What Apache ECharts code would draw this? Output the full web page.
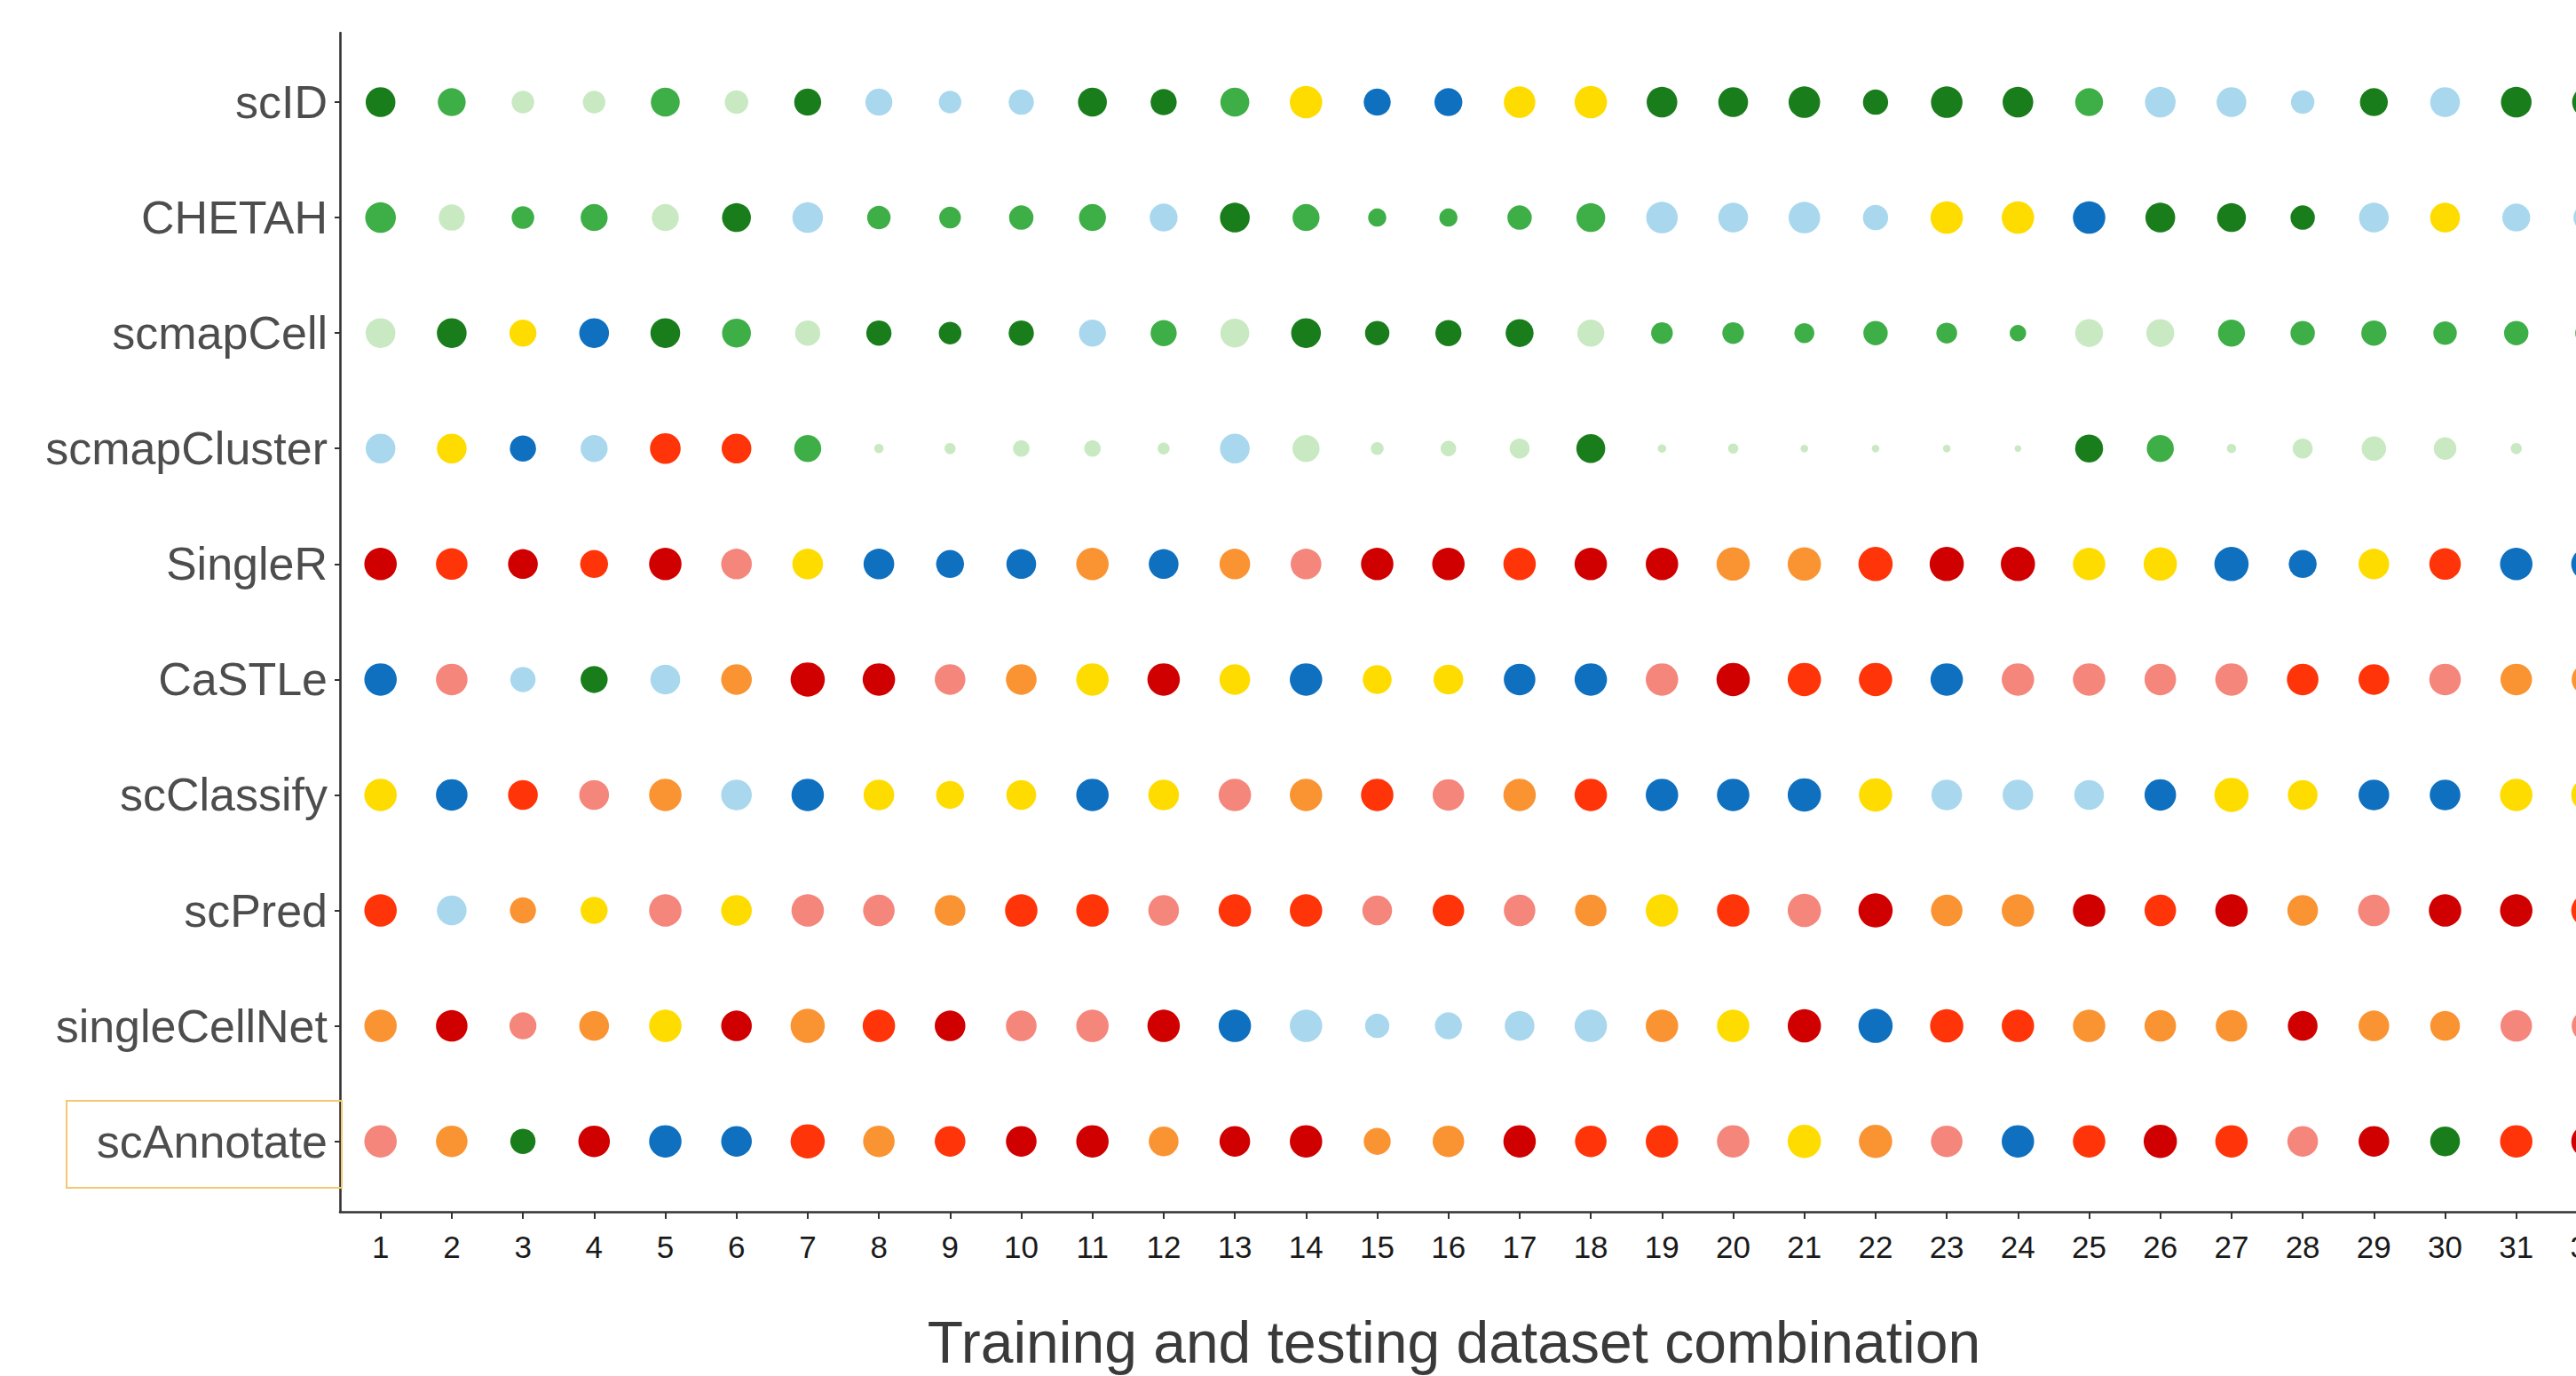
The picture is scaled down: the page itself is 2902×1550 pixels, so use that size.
<!DOCTYPE html>
<html>
<head>
<meta charset="utf-8">
<style>
html,body{margin:0;padding:0;background:#fff;overflow:hidden;}
#chart{width:2960px;height:1550px;}
</style>
<script src="https://cdn.jsdelivr.net/npm/echarts@6/dist/echarts.min.js"></script>
</head>
<body>
<div id="chart"></div>
<script>
// ---- data ----
const combos = [1,2,3,4,5,6,7,8,9,10,11,12,13,14,15,16,17,18,19,20,21,22,23,24,25,26,27,28,29,30,31,32];
const methods = ['scID','CHETAH','scmapCell','scmapCluster','SingleR','CaSTLe','scClassify','scPred','singleCellNet','scAnnotate'];
const axisTitle = 'Training and testing dataset combination';

// rank of each method (1 = best) per combination
const rankScID         = [10,9,8,8,9,8,10,7,7,7,10,10,9,5,6,6,5,5,10,10,10,10,10,10,9,7,7,7,10,7,10,10];
const rankCHETAH       = [9,8,9,9,8,10,7,9,9,9,9,7,10,9,9,9,9,9,7,7,7,7,5,5,6,10,10,10,7,5,7,7];
const rankScmapCell    = [8,10,5,6,10,9,8,10,10,10,7,9,8,10,10,10,10,8,9,9,9,9,9,9,8,8,9,9,9,9,9,9];
const rankScmapCluster = [7,5,6,7,2,2,9,8,8,8,8,8,7,8,8,8,8,10,8,8,8,8,8,8,10,9,8,8,8,8,8,8];
const rankSingleR      = [1,2,1,2,1,3,5,6,6,6,4,6,4,3,1,1,2,1,1,4,4,2,1,1,5,5,6,6,5,2,6,6];
const rankCaSTLe       = [6,3,7,10,7,4,1,1,3,4,5,1,5,6,5,5,6,6,3,1,2,2,6,3,3,3,3,2,2,3,4,4];
const rankScClassify   = [5,6,2,3,4,7,6,5,5,5,6,5,3,4,2,3,4,2,6,6,6,5,7,7,7,6,5,5,6,6,5,5];
const rankScPred       = [2,7,4,5,3,5,3,3,4,2,2,3,2,2,3,2,3,4,5,2,3,1,4,4,1,2,1,4,3,1,1,2];
const rankSingleCellNet= [4,1,3,4,5,1,4,2,1,3,3,1,6,7,7,7,7,7,4,5,1,6,2,2,4,4,4,1,4,4,3,3];
const rankScAnnotate   = [3,4,10,1,6,6,2,4,2,1,1,4,1,1,4,4,1,2,2,3,5,4,3,6,2,1,2,3,1,10,2,1];

// score encoded by dot size
const scoreScID         = [35,33,27,27,34,28,32,32,27,30,34,31,34,38,32,33,37,38,36,35,37,30,37,36,33,36,35,28,33,35,36,36];
const scoreCHETAH       = [36,31,27,32,32,34,36,28,26,29,32,33,35,32,22,22,29,34,37,35,37,30,38,38,38,35,34,29,35,35,33,33];
const scoreScmapCell    = [35,35,32,35,35,34,30,30,27,30,32,31,34,35,29,31,33,32,26,26,24,29,25,20,33,33,32,29,30,28,29,29];
const scoreScmapCluster = [35,35,31,32,36,35,32,12,14,20,20,15,35,32,16,19,24,34,11,13,10,10,10,9,33,32,12,24,29,27,14,10];
const scoreSingleR      = [38,37,35,33,38,36,36,36,33,35,38,35,36,36,38,38,38,38,38,39,39,40,40,40,38,39,40,33,36,37,38,38];
const scoreCaSTLe       = [38,37,30,32,35,36,40,38,36,36,38,38,36,38,34,35,37,38,38,39,39,39,38,38,38,37,38,37,36,37,37,37];
const scoreScClassify   = [38,37,35,35,38,36,38,36,33,35,38,36,38,38,38,37,38,38,38,38,39,39,36,36,35,37,40,35,36,36,38,38];
const scoreScPred       = [38,35,31,32,38,36,38,37,36,38,38,36,38,38,35,37,37,37,38,38,39,40,37,38,38,37,38,36,37,38,38,38];
const scoreSingleCellNet= [38,37,32,35,38,36,40,38,36,36,38,38,38,38,29,32,35,38,38,38,39,40,39,38,38,37,37,35,36,35,37,37];
const scoreScAnnotate   = [38,37,30,37,38,36,40,37,36,36,38,35,36,38,32,37,38,37,38,38,39,39,37,38,38,39,38,36,36,35,38,38];

const rankRows  = [rankScID,rankCHETAH,rankScmapCell,rankScmapCluster,rankSingleR,rankCaSTLe,rankScClassify,rankScPred,rankSingleCellNet,rankScAnnotate];
const scoreRows = [scoreScID,scoreCHETAH,scoreScmapCell,scoreScmapCluster,scoreSingleR,scoreCaSTLe,scoreScClassify,scoreScPred,scoreSingleCellNet,scoreScAnnotate];

// ---- styles ----
const rankColors = ['#d00000','#ff3409','#f5867c','#fa9433','#ffdc00','#0e70bf','#a9d8ee','#c8e9c1','#3eae47','#1a7d1c'];
const FONT = "'Liberation Sans', Arial, Helvetica, sans-serif";

const points = [];
methods.forEach((m, i) => {
  combos.forEach((c, j) => {
    points.push([c, i + 1, rankRows[i][j], scoreRows[i][j]]);
  });
});

const rowTicks = methods.map((m, i) => i + 1);

const chart = echarts.init(document.getElementById('chart'), null, {renderer: 'svg'});
chart.setOption({
  backgroundColor: '#ffffff',
  animation: false,
  grid: {left: 383, right: 5, top: 37, bottom: 185, containLabel: false},
  xAxis: {
    type: 'value',
    min: 0.43, max: 32.5,
    axisLine: {show: true, onZero: false, lineStyle: {color: '#333333', width: 2.6}},
    axisTick: {show: true, customValues: combos, length: 8, lineStyle: {color: '#333333', width: 2}},
    axisLabel: {show: true, customValues: combos, margin: 22, fontSize: 35, color: '#1a1a1a', fontFamily: FONT},
    splitLine: {show: false}
  },
  yAxis: {
    type: 'value',
    inverse: true,
    min: 0.4, max: 10.61,
    axisLine: {show: true, onZero: false, lineStyle: {color: '#333333', width: 2.6}},
    axisTick: {show: true, customValues: rowTicks, length: 6, lineStyle: {color: '#333333', width: 2}},
    axisLabel: {show: true, customValues: rowTicks, margin: 14, fontSize: 52, color: '#4d4d4d', fontFamily: FONT,
      formatter: v => methods[Math.round(v) - 1] || ''},
    splitLine: {show: false}
  },
  series: [{
    type: 'scatter',
    clip: false,
    data: points,
    symbol: 'circle',
    symbolSize: v => v[3] - 1.5,
    itemStyle: {color: p => rankColors[p.data[2] - 1], opacity: 1}
  }],
  graphic: [
    {type: 'rect', shape: {x: 75, y: 1240, width: 310, height: 98},
     style: {fill: 'none', stroke: '#f2c872', lineWidth: 2}, z: 10},
    {type: 'text', x: 1638, y: 1512,
     style: {text: axisTitle, fontSize: 66, fill: '#3a3a3a', fontFamily: FONT, textAlign: 'center', textVerticalAlign: 'middle'}}
  ]
});
</script>
</body>
</html>
